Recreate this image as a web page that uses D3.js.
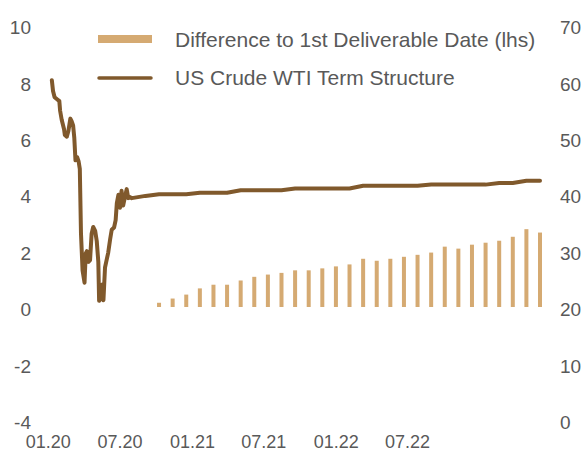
<!DOCTYPE html>
<html>
<head>
<meta charset="utf-8">
<script src="https://cdn.jsdelivr.net/npm/d3@7"></script>
<style>
  html, body { margin: 0; padding: 0; background: #fff; }
  svg text { font-family: "Liberation Sans", Arial, sans-serif; fill: #595959; }
  .y-label { font-size: 19px; }
  .x-label { font-size: 18px; }
  .legend-label { font-size: 21px; }
</style>
</head>
<body>
<svg id="chart" width="588" height="456"></svg>
<script>
// Spot history, rhs (USD/bbl)
const histDates = [
  '2020-01-10', '2020-01-13', '2020-01-17', '2020-01-24', '2020-01-29', '2020-01-31',
  '2020-02-04', '2020-02-10', '2020-02-12', '2020-02-17', '2020-02-21', '2020-02-26',
  '2020-02-29', '2020-03-04', '2020-03-07', '2020-03-10', '2020-03-14', '2020-03-18',
  '2020-03-21', '2020-03-24', '2020-03-28', '2020-04-02', '2020-04-05', '2020-04-08',
  '2020-04-12', '2020-04-16', '2020-04-20', '2020-04-24', '2020-04-29', '2020-05-03',
  '2020-05-07', '2020-05-09', '2020-05-13', '2020-05-17', '2020-05-20', '2020-05-24',
  '2020-05-28', '2020-06-01', '2020-06-06', '2020-06-10', '2020-06-16', '2020-06-20',
  '2020-06-23', '2020-06-27', '2020-07-01', '2020-07-05', '2020-07-09', '2020-07-13',
  '2020-07-18', '2020-07-22', '2020-07-26',
];
const histValues = [
  60.2, 58.3, 57.2, 56.8, 56.5, 54.8,
  53.2, 51.5, 50.5, 50.2, 51.2, 53.4,
  53.0, 52.2, 50.0, 46.0, 46.6, 45.8,
  44.5, 33.0, 26.5, 24.3, 29.5, 29.9,
  28.0, 28.3, 33.0, 34.2, 33.5, 31.7,
  28.0, 21.1, 21.5, 24.0, 21.2, 27.0,
  28.3, 29.6, 32.0, 33.7, 34.1, 35.4,
  38.4, 39.9, 37.6, 40.6, 38.0, 39.3,
  40.9, 39.3, 39.5,
];

// Forward curve by contract month, rhs (USD/bbl)
const fwdMonths = [
  '2020-09', '2020-10', '2020-11', '2020-12',
  '2021-01', '2021-02', '2021-03', '2021-04', '2021-05', '2021-06',
  '2021-07', '2021-08', '2021-09', '2021-10', '2021-11', '2021-12',
  '2022-01', '2022-02', '2022-03', '2022-04', '2022-05', '2022-06',
  '2022-07', '2022-08', '2022-09', '2022-10', '2022-11', '2022-12',
  '2023-01', '2023-02', '2023-03',
];
const fwdValues = [
  39.3, 39.7, 40.0, 40.0,
  40.0, 40.25, 40.25, 40.25, 40.7, 40.7,
  40.7, 40.7, 41.0, 41.0, 41.0, 41.0,
  41.0, 41.5, 41.5, 41.5, 41.5, 41.5,
  41.7, 41.7, 41.7, 41.7, 41.7, 42.0,
  42.0, 42.4, 42.4,
];
// Difference to 1st deliverable date, lhs (USD/bbl)
const diffValues = [
  0, 0, 0.15, 0.30,
  0.44, 0.66, 0.79, 0.79, 0.94, 1.07,
  1.15, 1.21, 1.30, 1.30, 1.37, 1.44,
  1.51, 1.71, 1.64, 1.71, 1.78, 1.85,
  1.93, 2.14, 2.07, 2.21, 2.28, 2.35,
  2.49, 2.76, 2.64,
];

const leftTicks = [-4, -2, 0, 2, 4, 6, 8, 10];
const rightTicks = [0, 10, 20, 30, 40, 50, 60, 70];
const xTickDates = ['2020-01-01', '2020-07-01', '2021-01-01', '2021-07-01', '2022-01-01', '2022-07-01'];
const legendLabels = ['Difference to 1st Deliverable Date (lhs)', 'US Crude WTI Term Structure'];

const colors = { bar: '#d5aa72', line: '#80592c' };

const parseDay = d3.timeParse('%Y-%m-%d');
const svg = d3.select('#chart');

const plotTop = 25;
const plotBottom = 419.8;
const plotRight = 540;

// Scales
const yLeft = d3.scaleLinear().domain([-4, 10]).range([plotBottom, plotTop]);
const yRight = d3.scaleLinear().domain([0, 70]).range([plotBottom, plotTop]);
const xTime = d3.scaleTime()
  .domain([parseDay('2020-01-01'), parseDay('2022-07-01')])
  .range([48.3, 407.5]);
// forward contracts are spaced evenly after the spot history
const xFwd = d3.scalePoint()
  .domain(fwdMonths)
  .range([xTime(parseDay(histDates[histDates.length - 1])) + 2, plotRight]);

// Left axis labels
svg.append('g')
  .selectAll('text')
  .data(leftTicks)
  .join('text')
  .attr('class', 'y-label')
  .attr('x', 31)
  .attr('y', (d) => yLeft(d) + 2.5)
  .attr('dy', '0.35em')
  .attr('text-anchor', 'end')
  .text((d) => d);

// Right axis labels
svg.append('g')
  .selectAll('text')
  .data(rightTicks)
  .join('text')
  .attr('class', 'y-label')
  .attr('x', 560)
  .attr('y', (d) => yRight(d) + 2.5)
  .attr('dy', '0.35em')
  .text((d) => d);

// Bottom axis labels
const fmt = d3.timeFormat('%m.%y');
svg.append('g')
  .selectAll('text')
  .data(xTickDates.map(parseDay))
  .join('text')
  .attr('class', 'x-label')
  .attr('x', (d) => xTime(d))
  .attr('y', 441.5)
  .attr('dy', '0.35em')
  .attr('text-anchor', 'middle')
  .text((d) => fmt(d));

// Bars
svg.append('g')
  .selectAll('rect')
  .data(fwdMonths.map((m, i) => ({ m, v: diffValues[i] })).filter((d) => d.v > 0))
  .join('rect')
  .attr('x', (d) => xFwd(d.m) - 2)
  .attr('width', 4)
  .attr('y', (d) => yLeft(d.v))
  .attr('height', (d) => yLeft(0) - yLeft(d.v))
  .attr('fill', colors.bar);

// Line: spot history followed by the forward curve
const linePoints = histDates.map((d, i) => [xTime(parseDay(d)), yRight(histValues[i])])
  .concat(fwdMonths.map((m, i) => [xFwd(m), yRight(fwdValues[i])]));

svg.append('path')
  .attr('d', d3.line()(linePoints))
  .attr('fill', 'none')
  .attr('stroke', colors.line)
  .attr('stroke-width', 4)
  .attr('stroke-linejoin', 'round')
  .attr('stroke-linecap', 'round');

// Legend
const legend = svg.append('g');
legend.append('rect')
  .attr('x', 98).attr('y', 35)
  .attr('width', 54).attr('height', 8)
  .attr('fill', colors.bar);
legend.append('line')
  .attr('x1', 99).attr('x2', 151)
  .attr('y1', 78).attr('y2', 78)
  .attr('stroke', colors.line)
  .attr('stroke-width', 3.5)
  .attr('stroke-linecap', 'round');
legend.selectAll('text.legend-label')
  .data(legendLabels)
  .join('text')
  .attr('class', 'legend-label')
  .attr('x', 175)
  .attr('y', (d, i) => 40 + i * 38)
  .attr('dy', '0.35em')
  .text((d) => d);
</script>
</body>
</html>
